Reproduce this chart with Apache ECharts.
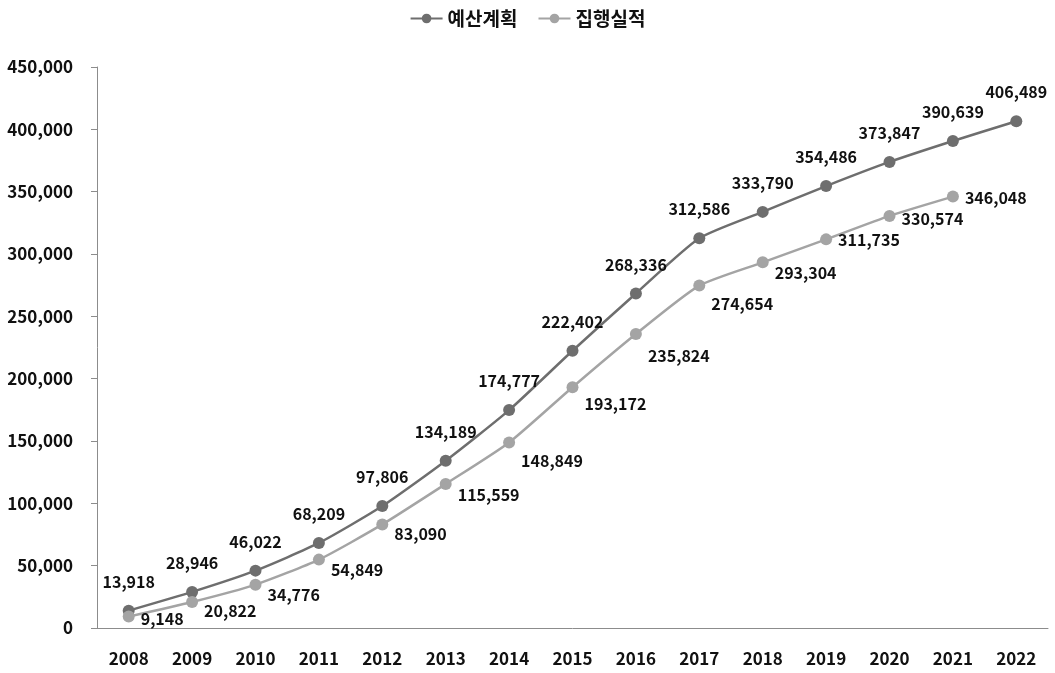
<!DOCTYPE html>
<html>
<head>
<meta charset="utf-8">
<script src="https://cdn.jsdelivr.net/npm/echarts@6/dist/echarts.min.js"></script>
<style>
  html, body { margin: 0; padding: 0; background: #fff; }
  #chart { width: 1055px; height: 673px; }
</style>
</head>
<body>
<div id="chart"></div>
<script>
// 연도
var years = ['2008', '2009', '2010', '2011', '2012', '2013', '2014', '2015',
  '2016', '2017', '2018', '2019', '2020', '2021', '2022']
// 예산계획
var planned = [13918, 28946, 46022, 68209, 97806, 134189, 174777, 222402,
  268336, 312586, 333790, 354486, 373847, 390639, 406489]
// 집행실적 (2022 없음)
var executed = [9148, 20822, 34776, 54849, 83090, 115559, 148849, 193172,
  235824, 274654, 293304, 311735, 330574, 346048]

// 집행실적 라벨 세로 위치 보정 (px)
var execLabelDy = [2, 9, 10, 10, 10, 11, 18, 17, 22, 18, 11, 1, 3, 1]

var font = 'Noto Sans CJK KR'
var fmt = function (p) { return p.value.toLocaleString('en-US') }
var chart = echarts.init(document.getElementById('chart'))

chart.setOption({
  animation: false,
  textStyle: { fontFamily: font },
  legend: {
    top: 4,
    left: 'center',
    itemWidth: 32,
    itemHeight: 12,
    itemGap: 20,
    textStyle: { fontSize: 19, fontWeight: 'bold', color: '#111', fontFamily: font },
    data: ['예산계획', '집행실적']
  },
  grid: { left: 97, right: 7, top: 67, bottom: 45 },
  xAxis: {
    type: 'category',
    data: years,
    boundaryGap: true,
    axisLine: { lineStyle: { color: '#8c8c8c', width: 1 } },
    axisTick: { length: 8, lineStyle: { color: '#8c8c8c' } },
    axisLabel: { fontSize: 17, fontWeight: 'bold', color: '#111', margin: 22, fontFamily: font }
  },
  yAxis: {
    type: 'value',
    min: 0,
    max: 450000,
    interval: 50000,
    splitLine: { show: false },
    axisLine: { show: true, lineStyle: { color: '#8c8c8c', width: 1 } },
    axisTick: { show: true, length: 6, lineStyle: { color: '#8c8c8c' } },
    axisLabel: {
      fontSize: 17, fontWeight: 'bold', color: '#111', margin: 24, fontFamily: font,
      formatter: function (v) { return v.toLocaleString('en-US') }
    }
  },
  series: [
    {
      name: '예산계획',
      type: 'line',
      smooth: 0.2,
      data: planned,
      symbol: 'circle',
      symbolSize: 12,
      lineStyle: { color: '#6e6e6e', width: 2.5 },
      itemStyle: { color: '#6e6e6e' },
      label: {
        show: true,
        position: 'top',
        distance: 15,
        fontSize: 16,
        fontWeight: 'bold',
        color: '#111',
        fontFamily: font,
        formatter: fmt
      }
    },
    {
      name: '집행실적',
      type: 'line',
      smooth: 0.2,
      data: executed.map(function (v, i) {
        return { value: v, label: { offset: [0, execLabelDy[i]] } }
      }),
      symbol: 'circle',
      symbolSize: 12,
      lineStyle: { color: '#a4a4a4', width: 2.5 },
      itemStyle: { color: '#a4a4a4' },
      label: {
        show: true,
        position: 'right',
        distance: 6,
        fontSize: 16,
        fontWeight: 'bold',
        color: '#111',
        fontFamily: font,
        formatter: fmt
      }
    }
  ]
})
</script>
</body>
</html>
